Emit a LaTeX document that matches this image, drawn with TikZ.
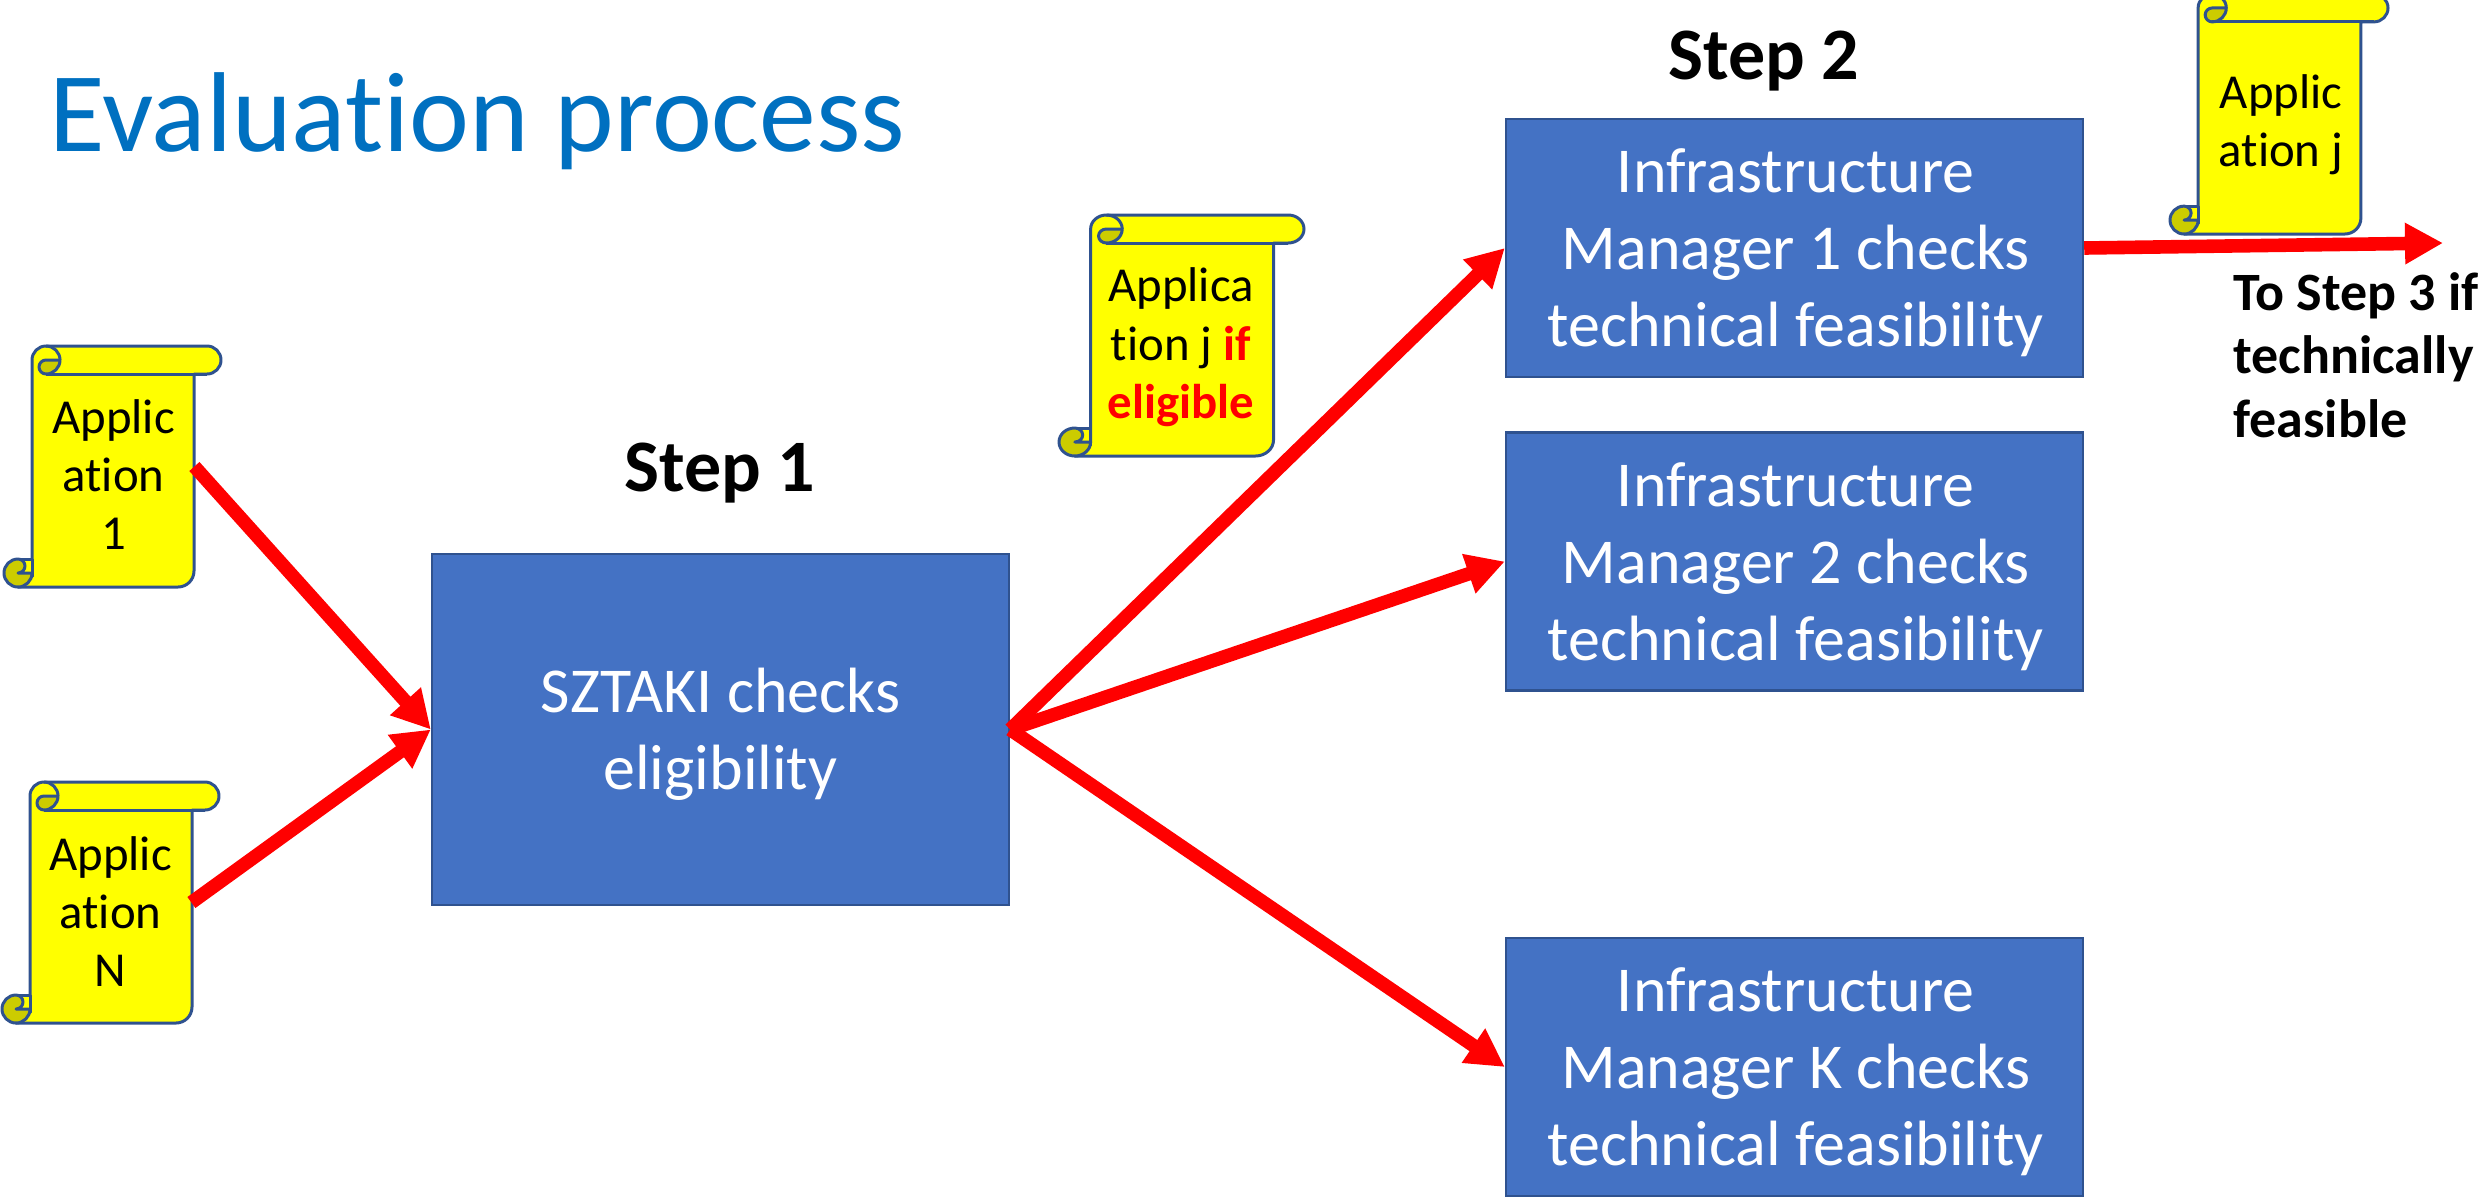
\documentclass[tikz,border=0pt]{standalone}
\usepackage{fontspec}
\setmainfont{Carlito}[Ligatures=NoCommon]
\usetikzlibrary{arrows.meta}
\definecolor{boxblue}{HTML}{4472C4}
\definecolor{boxedge}{HTML}{2F528F}
\definecolor{titleblue}{HTML}{0070C0}
\definecolor{curl}{HTML}{CCCC00}
\definecolor{scrollfill}{HTML}{FFFF00}
\definecolor{flowred}{HTML}{FF0000}
\tikzset{
  procbox/.style={draw=boxedge,line width=1.2pt,fill=boxblue,inner sep=0pt},
  boxtext/.style={text=white,align=center,inner sep=0pt,font=\fontsize{32}{38.5}\selectfont},
  scrollbody/.style={inner sep=0pt},
  scrolltext/.style={align=center,inner sep=0pt,font=\fontsize{24.4}{29.2}\selectfont},
  steplabel/.style={inner sep=0pt,font=\fontsize{37}{44}\selectfont\bfseries},
  flow/.style={draw=flowred,line width=6.8pt,-{Triangle[length=19pt,width=19.5pt]}},
  scrollline/.style={draw=boxedge,line width=1.5pt,line join=round}
}
% #1 left, #2 top, #3 width, #4 height (pixels of the reference)
\newcommand{\scrollshape}[4]{%
  \begin{scope}[shift={(#1,#2)},xscale=#3/217,yscale=-#4/241]
    \path[scrollline,fill=scrollfill] (28,-14) arc[start angle=180,end angle=90,radius=14]
      -- (203,0) arc[start angle=90,end angle=-90,radius=14] -- (190,-28)
      -- (190,-225) arc[start angle=0,end angle=-90,radius=16] -- (14,-241)
      -- (28,-227) -- cycle;
    \path[scrollline,fill=scrollfill] (14,-213) -- (28,-213) -- (28,-230) -- (14,-230) -- cycle;
    \path[scrollline,fill=curl] (14,-213) arc[start angle=90,end angle=360,radius=14]
      -- (14,-227) arc[start angle=-90,end angle=90,radius=7] -- cycle;
    \path[scrollline,fill=curl] (56,-14) arc[start angle=0,end angle=-90,radius=14]
      arc[start angle=270,end angle=90,radius=7] -- cycle;
    \path[scrollline] (42,0) arc[start angle=90,end angle=0,radius=14];
    \path[scrollline] (42,-28) -- (203,-28);
  \end{scope}}
\begin{document}
\begin{tikzpicture}[x=0.5pt,y=-0.5pt]
\useasboundingbox (0,0) rectangle (2484,1196);
\clip (0,0) rectangle (2484,1196);
\node[anchor=west,inner sep=0pt,text=titleblue,font=\fontsize{56.8}{68}\selectfont] (title) at (49,121.5) {Evaluation process};

\scrollshape{4}{346}{217}{241}
\node[scrollbody,minimum width=81pt,minimum height=120.5pt,label={[scrolltext,yshift=-4pt,xshift=0.3pt]center:Applic\\ation\\1}] (app1) at (113,466.5) {};
\scrollshape{2}{782}{217}{241}
\node[scrollbody,minimum width=81pt,minimum height=120.5pt,label={[scrolltext,yshift=-4.5pt,xshift=0.3pt]center:Applic\\ation\\N}] (appN) at (110,902.5) {};
\scrollshape{1059}{215}{245}{241}
\node[scrollbody,minimum width=91.5pt,minimum height=120.5pt,label={[scrolltext,yshift=-6pt,xshift=-0.5pt]center:Applica\\tion j \textcolor{flowred}{\bfseries if}\\\textcolor{flowred}{\bfseries eligible}}] (appIf) at (1182,335.5) {};
\scrollshape{2170}{-6}{218}{240}
\node[scrollbody,minimum width=81.5pt,minimum height=120pt,label={[scrolltext,yshift=-5.5pt,xshift=0.5pt]center:Applic\\ation j}] (appJ) at (2280,114) {};

\node[procbox,minimum width=288.5pt,minimum height=175.5pt,label={[boxtext,yshift=-2.4pt]center:SZTAKI checks\\eligibility}] (sztaki) at (720.5,729.5) {};
\node[procbox,minimum width=288.5pt,minimum height=129pt,label={[boxtext,yshift=-2.4pt,xshift=0.6pt]center:Infrastructure\\Manager 1 checks\\technical feasibility}] (im1) at (1794.5,248) {};
\node[procbox,minimum width=288.5pt,minimum height=129pt,label={[boxtext,yshift=-2.4pt,xshift=0.6pt]center:Infrastructure\\Manager 2 checks\\technical feasibility}] (im2) at (1794.5,561.5) {};
\node[procbox,minimum width=288.5pt,minimum height=129pt,label={[boxtext,yshift=-2.4pt,xshift=0.6pt]center:Infrastructure\\Manager K checks\\technical feasibility}] (imK) at (1794.5,1067) {};

\node[steplabel] (step1) at (720,473) {Step 1};
\node[steplabel] (step2) at (1764,61) {Step 2};
\node[anchor=north west,align=left,inner sep=0pt,font=\fontsize{27}{31.7}\selectfont\bfseries] (to3) at (2233,272) {To Step 3 if\\technically\\feasible};

\coordinate (out) at (2443,243);
\draw[flow] (app1.east) -- (sztaki.west);
\draw[flow] (appN.east) -- (sztaki.west);
\draw[flow] (sztaki.east) -- (im1.west);
\draw[flow] (sztaki.east) -- (im2.west);
\draw[flow] (sztaki.east) -- (imK.west);
\draw[flow] (im1.east) -- (out);
\end{tikzpicture}
\end{document}
